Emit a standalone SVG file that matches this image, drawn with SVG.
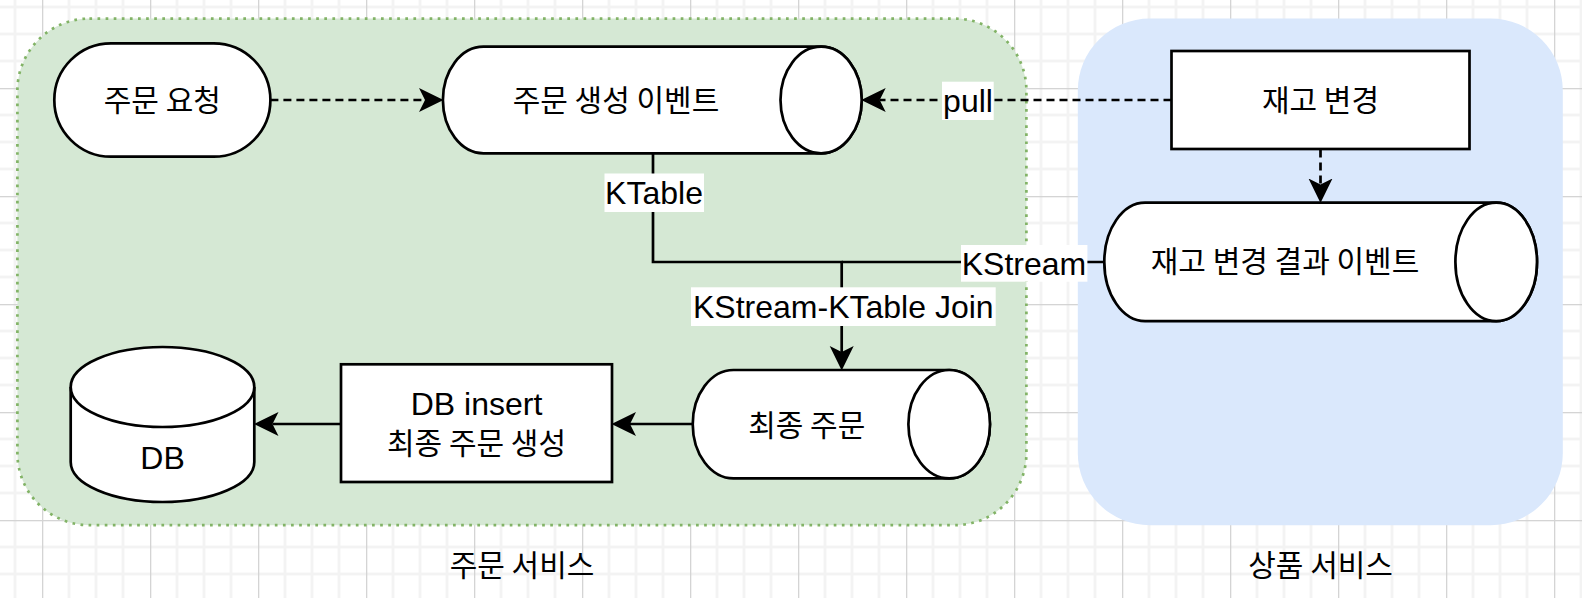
<svg xmlns="http://www.w3.org/2000/svg" width="1582" height="598" viewBox="0 0 1582 598">
<defs>
<pattern id="grid" x="42" y="88" width="108" height="108" patternUnits="userSpaceOnUse">
<rect x="0" y="0" width="108" height="108" fill="#ffffff"/>
<g fill="#f3f3f3">
<rect x="25.6" y="0" width="2.8" height="108"/><rect x="52.6" y="0" width="2.8" height="108"/><rect x="79.6" y="0" width="2.8" height="108"/>
<rect x="0" y="25.6" width="108" height="2.8"/><rect x="0" y="52.6" width="108" height="2.8"/><rect x="0" y="79.6" width="108" height="2.8"/>
</g>
<g fill="#d4d4d4">
<rect x="0" y="0" width="1.3" height="108"/><rect x="0" y="0" width="108" height="1.3"/>
</g>
</pattern>
<marker id="arr" viewBox="0 0 26 26" markerWidth="26" markerHeight="26" markerUnits="userSpaceOnUse" refX="6" refY="13" orient="auto">
<path d="M24.5,13 L0,1 L6,13 L0,25 Z" fill="#000000"/>
</marker>
<style>
.shape{fill:#ffffff;stroke:#000000;stroke-width:2.7}
.edge{fill:none;stroke:#000000;stroke-width:2.7}
.dash{stroke-dasharray:8 5}
.lat{font-family:"Liberation Sans",Arial,Helvetica,sans-serif;font-size:32px;fill:#000000;text-anchor:middle}
.kor{font-family:"Noto Sans CJK KR","Liberation Sans",sans-serif;font-size:30px;fill:#000000;text-anchor:middle}
.lbl{fill:#ffffff}
</style>
</defs>
<rect x="0" y="0" width="1582" height="598" fill="url(#grid)"/>

<g id="order-service">
<rect x="17.4" y="18.6" width="1009" height="506.6" rx="72" ry="72" fill="#d5e8d4" stroke="#82b366" stroke-width="2.7" stroke-dasharray="2.7 5.4"/>
<text class="kor" x="522" y="576">주문 서비스</text>
</g>
<g id="product-service">
<rect x="1077.8" y="18.6" width="485" height="506.6" rx="72" ry="72" fill="#dae8fc"/>
<text class="kor" x="1320.6" y="576">상품 서비스</text>
</g>

<g id="connectors">
<path class="edge dash" d="M270.4,100 H425" marker-end="url(#arr)"/>
<path class="edge dash" d="M1171.5,100 H879.7" marker-end="url(#arr)"/>
<path class="edge dash" d="M1320.5,149.5 V184.5" marker-end="url(#arr)"/>
<path class="edge" d="M653,153.3 V262 H841.7 V352" marker-end="url(#arr)"/>
<path class="edge" d="M1104.3,262 H841.7"/>
<path class="edge" d="M692.7,424 H630" marker-end="url(#arr)"/>
<path class="edge" d="M341,424 H272.5" marker-end="url(#arr)"/>
<rect class="lbl" x="942" y="81.7" width="51.7" height="38.3"/>
<text class="lat" x="968" y="112">pull</text>
<rect class="lbl" x="604.5" y="173.5" width="99.5" height="38.5"/>
<text class="lat" x="654" y="204">KTable</text>
<rect class="lbl" x="961" y="245" width="126.4" height="36.7"/>
<text class="lat" x="1024" y="274.5">KStream</text>
<rect class="lbl" x="691" y="287.3" width="304.7" height="38.7"/>
<text class="lat" x="843.3" y="318">KStream-KTable Join</text>
</g>

<g id="order-request">
<rect class="shape" x="54.3" y="43.3" width="216.1" height="113.4" rx="56.7" ry="56.7"/>
<text class="kor" x="162.3" y="111">주문 요청</text>
</g>

<g id="order-created-event">
<path class="shape" d="M483.5,46.7 H821.1 A40.6,53.3 0 0 1 821.1,153.3 H483.5 A40.6,53.3 0 0 1 483.5,46.7 Z"/>
<ellipse class="shape" cx="821.1" cy="100" rx="40.6" ry="53.3"/>
<text class="kor" x="616" y="111">주문 생성 이벤트</text>
</g>

<g id="stock-change">
<rect class="shape" x="1171.5" y="51" width="298" height="98"/>
<text class="kor" x="1320.5" y="111">재고 변경</text>
</g>

<g id="stock-change-result-event">
<path class="shape" d="M1145.1,202.7 H1496.2 A40.8,59.2 0 0 1 1496.2,321.1 H1145.1 A40.8,59.2 0 0 1 1145.1,202.7 Z"/>
<ellipse class="shape" cx="1496.2" cy="261.9" rx="40.8" ry="59.2"/>
<text class="kor" x="1285" y="272">재고 변경 결과 이벤트</text>
</g>

<g id="final-order">
<path class="shape" d="M733.5,370 H949.2 A40.8,54.2 0 0 1 949.2,478.4 H733.5 A40.8,54.2 0 0 1 733.5,370 Z"/>
<ellipse class="shape" cx="949.2" cy="424.2" rx="40.8" ry="54.2"/>
<text class="kor" x="806.7" y="436">최종 주문</text>
</g>

<g id="db-insert">
<rect class="shape" x="341" y="364.3" width="271" height="117.7"/>
<text class="lat" x="476.5" y="414.5">DB insert</text>
<text class="kor" x="476.5" y="454">최종 주문 생성</text>
</g>

<g id="db">
<path class="shape" d="M70.7,387 A91.8,40 0 0 1 254.3,387 V462 A91.8,40 0 0 1 70.7,462 Z"/>
<path class="shape" d="M70.7,387 A91.8,40 0 0 0 254.3,387" fill="none"/>
<text class="lat" x="162.5" y="468.5">DB</text>
</g>
</svg>
